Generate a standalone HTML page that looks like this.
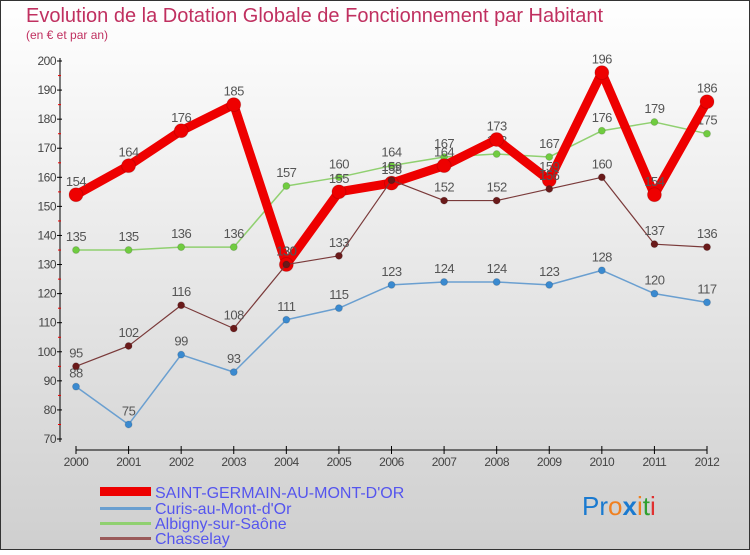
<!DOCTYPE html>
<html><head><meta charset="utf-8"><style>
body{margin:0;}
#c{width:750px;height:550px;position:relative;font-family:"Liberation Sans",sans-serif;}
</style></head><body>
<div id="c">
<svg id="s" width="750" height="550" xmlns="http://www.w3.org/2000/svg">
<defs><linearGradient id="bg" x1="0" y1="0" x2="0" y2="1"><stop offset="0" stop-color="#ffffff"/><stop offset="1" stop-color="#cfcfcf"/></linearGradient></defs>
<rect x="0.5" y="0.5" width="749" height="549" fill="url(#bg)" stroke="#333"/>
<text x="26" y="22" font-size="20" fill="#c03060">Evolution de la Dotation Globale de Fonctionnement par Habitant</text>
<text x="26" y="39" font-size="12" fill="#c03060">(en € et par an)</text>
<g id="axes"></g><g id="series"></g>
<g>
<rect x="100" y="487" width="51" height="9" fill="#e00"/>
<text x="155" y="498" font-size="16" fill="#5555ee">SAINT-GERMAIN-AU-MONT-D'OR</text>
<rect x="100" y="507" width="51" height="3" fill="#6a9fd0"/>
<text x="155" y="514" font-size="16" fill="#5555ee">Curis-au-Mont-d'Or</text>
<rect x="100" y="522" width="51" height="3" fill="#90d070"/>
<text x="155" y="529" font-size="16" fill="#5555ee">Albigny-sur-Saône</text>
<rect x="100" y="537" width="51" height="3" fill="#9a5a5a"/>
<text x="155" y="544" font-size="16" fill="#5555ee">Chasselay</text>
</g>
<g font-size="26">
<text x="582" y="515"><tspan fill="#1a7ad0">Pr</tspan><tspan fill="#f08020">o</tspan><tspan fill="#1a7ad0" font-weight="bold">x</tspan><tspan fill="#f08020">i</tspan><tspan fill="#30a030">t</tspan><tspan fill="#e03030">i</tspan></text>
</g>
</svg>
</div>
<script>
const years=[2000,2001,2002,2003,2004,2005,2006,2007,2008,2009,2010,2011,2012];
const yTicks=[70,80,90,100,110,120,130,140,150,160,170,180,190,200];
const sgValues=[154,164,176,185,130,155,158,164,173,159,196,154,186];
const curisValues=[88,75,99,93,111,115,123,124,124,123,128,120,117];
const albignyValues=[135,135,136,136,157,160,164,167,168,167,176,179,175];
const chasselayValues=[95,102,116,108,130,133,159,152,152,156,160,137,136];
const NS="http://www.w3.org/2000/svg";
function xs(i){return 76+i*(707-76)/(years.length-1);}
function ys(v){return 61+(200-v)*(439-61)/130;}
function mk(tag,attrs,parent){const e=document.createElementNS(NS,tag);for(const k in attrs)e.setAttribute(k,attrs[k]);parent.appendChild(e);return e;}
const ax=document.getElementById('axes');
let yl=mk('line',{x1:60,y1:58,x2:60,y2:442,stroke:'#000'},ax);


yTicks.forEach(v=>{const y=ys(v);
 mk('line',{x1:57,y1:y,x2:62,y2:y,stroke:'#000'},ax);
 if(v<200)mk('line',{x1:58,y1:y-14.5,x2:61,y2:y-14.5,stroke:'#e00'},ax);
 const t=mk('text',{x:56,y:y+4,'font-size':12,'text-anchor':'end',fill:'#444','letter-spacing':'-0.5'},ax);t.textContent=v;
 
 });
let xl=mk('line',{x1:76,y1:450,x2:707,y2:450,stroke:'#000'},ax);


years.forEach((yr,i)=>{const x=xs(i);
 mk('line',{x1:x,y1:446,x2:x,y2:454,stroke:'#000'},ax);
 const t=mk('text',{x:x,y:466,'font-size':12,'text-anchor':'middle',fill:'#444','letter-spacing':'-0.5'},ax);t.textContent=yr;
 
 });
const sg=document.getElementById('series');
function draw(name,vals,color,w,r,dot){
 const g=mk('g',{},sg);
 
 
 const pts=vals.map((v,i)=>xs(i)+','+ys(v)).join(' ');
 mk('polyline',{points:pts,fill:'none',stroke:color,'stroke-width':w,'stroke-linejoin':'round'},g);
 vals.forEach((v,i)=>{
  const c=mk('circle',{cx:xs(i),cy:ys(v),r:r,fill:dot,stroke:'#0002'},g);
  
  
  const t=mk('text',{x:xs(i),y:ys(v)-9,'font-size':13,'text-anchor':'middle',fill:'#555','letter-spacing':'-0.5'},g);t.textContent=v;
  
  });
}
draw('series-curis',curisValues,'#6a9fd0',1.5,3.5,'#3a8ad0');
draw('series-albigny',albignyValues,'#90d070',1.5,3.5,'#70cc40');
draw('series-saint-germain',sgValues,'#ee0000',9,7,'#ee0000');
draw('series-chasselay',chasselayValues,'#7a3a3a',1.2,3.5,'#6a1a1a');
</script>
</body></html>
